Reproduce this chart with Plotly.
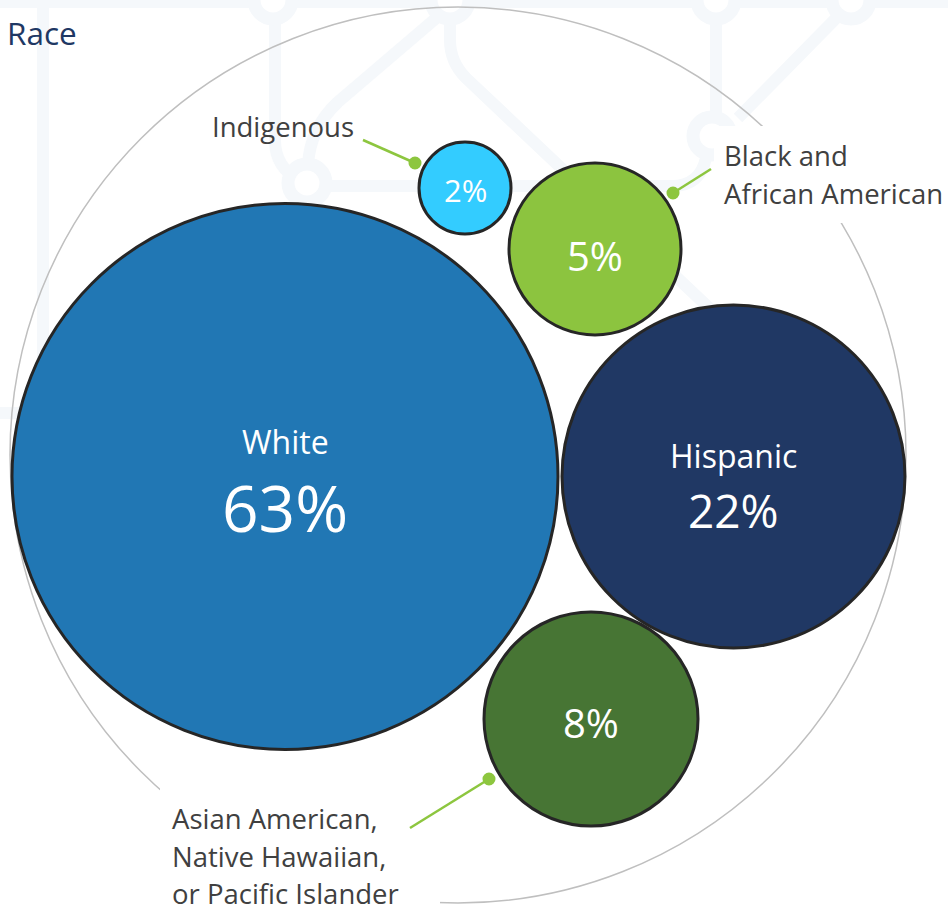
import plotly.graph_objects as go

# ---- data ----
categories = ["White", "Hispanic", "Asian American, Native Hawaiian, or Pacific Islander",
              "Black and African American", "Indigenous"]
values = [63, 22, 8, 5, 2]

# ---- layout (pixel space of the page) ----
W, H = 948, 911
center_x = [285, 733.5, 591, 595, 465]
center_y = [476.5, 476.5, 719, 249, 188]
radius = [273, 171.5, 107, 86, 46]
colors = ["#2177B4", "#203864", "#477534", "#8CC43F", "#33CCFF"]

# labels drawn inside bubbles (name line, if any)
inner_name = ["White", "Hispanic", None, None, None]
name_y = [441, 455, None, None, None]
pct_y = [507, 510, 722, 255, 190]
pct_size = [64, 46, 40, 40, 31]
name_size = 32

# outside labels (lines), anchor positions
out_labels = {
    4: dict(lines=["Indigenous"], x=282.5, ys=[126], anchor="center"),
    3: dict(lines=["Black and", "African American"], x=722, ys=[155, 193], anchor="left"),
    2: dict(lines=["Asian American,", "Native Hawaiian,", "or Pacific Islander"], x=170,
            ys=[818, 856, 893], anchor="left"),
}
leaders = {4: ((363, 140), (415, 163)), 3: ((711, 169), (673, 193)), 2: ((410, 828), (489, 779))}

font_family = "Open Sans, Calibri, sans-serif"
label_color = "#404040"
leader_color = "#8DC63F"
pattern_color = "#F5F8FB"

shapes = []

# faint background pattern
pattern_paths = [
    "M 0 2 L 948 2",
    "M 43 0 L 43 413 L 0 413",
    "M 275 0 L 275 140 Q 275 168 300 180",
    "M 448 8 L 338 102 Q 310 128 308 165",
    "M 450 0 L 450 40 Q 450 62 466 78 L 780 375",
    "M 307 186 L 672 186 Q 700 186 706 158",
    "M 716 0 L 716 118",
    "M 851 3 L 738 118",
]
for p in pattern_paths:
    shapes.append(dict(type="path", path=p, xref="x", yref="y", layer="below",
                       line=dict(color=pattern_color, width=12)))
nodes = [(273, 0), (450, 0), (716, 0), (851, 0), (307, 183), (712, 136)]
for nx, ny in nodes:
    r = 19
    shapes.append(dict(type="circle", xref="x", yref="y", layer="below",
                       x0=nx - r, x1=nx + r, y0=ny - r, y1=ny + r,
                       fillcolor="white", line=dict(color=pattern_color, width=13)))

# outer gray ring
ocx, ocy, orr = 458, 455, 448
shapes.append(dict(type="circle", xref="x", yref="y", layer="below",
                   x0=ocx - orr, x1=ocx + orr, y0=ocy - orr, y1=ocy + orr,
                   line=dict(color="#BFBFBF", width=1.5)))
# white boxes behind outside labels
for (x0, y0, x1, y1) in [(714, 126, 948, 223), (160, 788, 440, 911)]:
    shapes.append(dict(type="rect", xref="x", yref="y", layer="below",
                       x0=x0, x1=x1, y0=y0, y1=y1, fillcolor="white", line=dict(width=0)))

# bubbles
for i in range(len(values)):
    shapes.append(dict(type="circle", xref="x", yref="y",
                       x0=center_x[i] - radius[i], x1=center_x[i] + radius[i],
                       y0=center_y[i] - radius[i], y1=center_y[i] + radius[i],
                       fillcolor=colors[i], line=dict(color="#262626", width=3)))

# leader lines with dots
for i, ((x0, y0), (x1, y1)) in leaders.items():
    shapes.append(dict(type="line", xref="x", yref="y", x0=x0, y0=y0, x1=x1, y1=y1,
                       line=dict(color=leader_color, width=2.5)))
    d = 6.5
    shapes.append(dict(type="circle", xref="x", yref="y", x0=x1 - d, x1=x1 + d,
                       y0=y1 - d, y1=y1 + d, fillcolor=leader_color, line=dict(width=0)))

annotations = []
annotations.append(dict(text="Race", x=5, y=32, xref="x", yref="y", xanchor="left",
                        yanchor="middle", showarrow=False,
                        font=dict(family=font_family, size=31.5, color="#1F3864")))
for i, v in enumerate(values):
    if inner_name[i]:
        annotations.append(dict(text=inner_name[i], x=center_x[i], y=name_y[i], xref="x", yref="y",
                                xanchor="center", yanchor="middle", showarrow=False,
                                font=dict(family=font_family, size=name_size, color="white")))
    annotations.append(dict(text=f"{v}%", x=center_x[i], y=pct_y[i], xref="x", yref="y",
                            xanchor="center", yanchor="middle", showarrow=False,
                            font=dict(family=font_family, size=pct_size[i], color="white")))
for i, lab in out_labels.items():
    for line, yy in zip(lab["lines"], lab["ys"]):
        annotations.append(dict(text=line, x=lab["x"], y=yy, xref="x", yref="y",
                                xanchor=lab["anchor"], yanchor="middle", showarrow=False,
                                font=dict(family=font_family, size=27.5, color=label_color)))

fig = go.Figure()
fig.add_trace(go.Scatter(x=[0, W], y=[0, H], mode="markers", marker=dict(opacity=0),
                         hoverinfo="skip", showlegend=False))
fig.update_layout(
    width=W, height=H, margin=dict(l=0, r=0, t=0, b=0),
    paper_bgcolor="white", plot_bgcolor="white",
    xaxis=dict(range=[0, W], visible=False, fixedrange=True),
    yaxis=dict(range=[H, 0], visible=False, fixedrange=True),
    shapes=shapes, annotations=annotations, showlegend=False,
)
fig.write_html("out.html")
